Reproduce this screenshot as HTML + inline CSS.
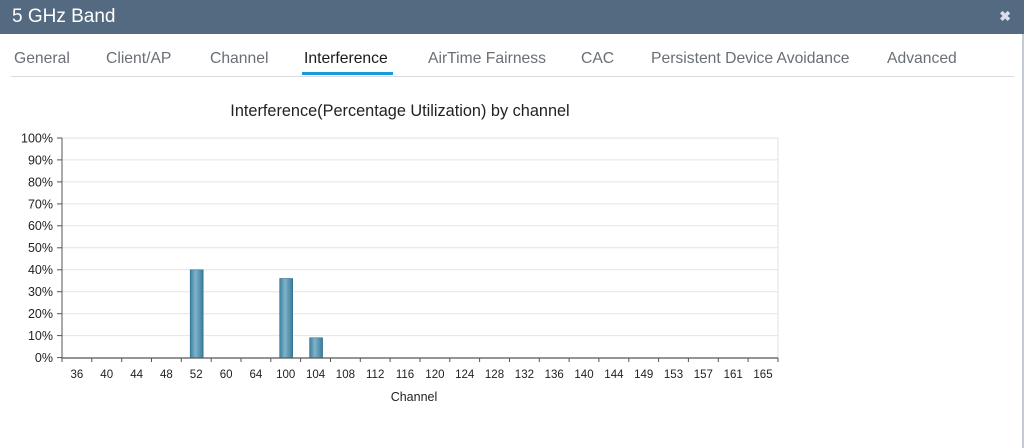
<!DOCTYPE html>
<html><head><meta charset="utf-8"><style>
body{margin:0;width:1024px;height:448px;overflow:hidden;background:#fff;font-family:"Liberation Sans",sans-serif;}
.hdr{position:absolute;left:0;top:0;width:1024px;height:34px;background:#546a80;color:#fff;font-size:19px;}
.hdr span{position:absolute;left:12px;top:6px;}
.hdr b{position:absolute;right:13px;top:8px;font-size:14px;color:#dde;}
.tab{position:absolute;top:50px;font-size:15.7px;color:#6a6f75;}
.line{position:absolute;left:11px;top:76px;width:1003px;height:1px;background:#d8dce0;}
.rb{position:absolute;right:0;top:34px;width:2px;height:414px;background:#c5cbd2;}
</style></head><body>
<div class="hdr"><span>5 GHz Band</span><b>✖</b></div>
<div class="tab" style="left:14px">General</div>
<div class="tab" style="left:106px">Client/AP</div>
<div class="tab" style="left:210px">Channel</div>
<div class="tab" style="left:304px;color:#1a1a1a">Interference</div>
<div style="position:absolute;left:302px;top:72px;width:91px;height:3px;background:#1a9bd7"></div>
<div class="tab" style="left:428px">AirTime Fairness</div>
<div class="tab" style="left:581px">CAC</div>
<div class="tab" style="left:651px">Persistent Device Avoidance</div>
<div class="tab" style="left:887px">Advanced</div>
<div class="line"></div>
<div class="rb"></div>
<svg width="1024" height="448" style="position:absolute;left:0;top:0" font-family="Liberation Sans, sans-serif">
<defs><linearGradient id="bg" x1="0" x2="1"><stop offset="0" stop-color="#3e7f9e"/><stop offset="0.4" stop-color="#7fb3cb"/><stop offset="1" stop-color="#3a7b9a"/></linearGradient></defs>
<text x="400" y="116" font-size="16.3" text-anchor="middle" fill="#222">Interference(Percentage Utilization) by channel</text>
<g stroke="#e4e4e4">
<line x1="62" x2="778" y1="335.6" y2="335.6"/><line x1="62" x2="778" y1="313.7" y2="313.7"/><line x1="62" x2="778" y1="291.7" y2="291.7"/><line x1="62" x2="778" y1="269.8" y2="269.8"/><line x1="62" x2="778" y1="247.8" y2="247.8"/><line x1="62" x2="778" y1="225.8" y2="225.8"/><line x1="62" x2="778" y1="203.9" y2="203.9"/><line x1="62" x2="778" y1="181.9" y2="181.9"/><line x1="62" x2="778" y1="159.9" y2="159.9"/>
</g>
<rect x="62" y="138" width="716" height="220" fill="none" stroke="#e2e2e2"/>
<g font-size="12.5" text-anchor="end" fill="#222">
<text x="53" y="362">0%</text><text x="53" y="340">10%</text><text x="53" y="318.1">20%</text><text x="53" y="296.1">30%</text><text x="53" y="274.2">40%</text><text x="53" y="252.2">50%</text><text x="53" y="230.2">60%</text><text x="53" y="208.3">70%</text><text x="53" y="186.3">80%</text><text x="53" y="164.3">90%</text><text x="53" y="142.4">100%</text>
</g>
<g stroke="#555">
<line x1="57" x2="62" y1="357.6" y2="357.6"/><line x1="57" x2="62" y1="335.6" y2="335.6"/><line x1="57" x2="62" y1="313.7" y2="313.7"/><line x1="57" x2="62" y1="291.7" y2="291.7"/><line x1="57" x2="62" y1="269.8" y2="269.8"/><line x1="57" x2="62" y1="247.8" y2="247.8"/><line x1="57" x2="62" y1="225.8" y2="225.8"/><line x1="57" x2="62" y1="203.9" y2="203.9"/><line x1="57" x2="62" y1="181.9" y2="181.9"/><line x1="57" x2="62" y1="159.9" y2="159.9"/><line x1="57" x2="62" y1="138" y2="138"/>
<line x1="62" x2="62" y1="138" y2="362"/>
<line x1="62" x2="778" y1="358" y2="358" stroke-width="1.3"/>
<path d="M91.8 358v4M121.7 358v4M151.5 358v4M181.3 358v4M211.2 358v4M241 358v4M270.8 358v4M300.6 358v4M330.5 358v4M360.3 358v4M390.1 358v4M420 358v4M449.8 358v4M479.6 358v4M509.5 358v4M539.3 358v4M569.1 358v4M598.9 358v4M628.8 358v4M658.6 358v4M688.4 358v4M718.3 358v4M748.1 358v4M778 358v4"/>
</g>
<g font-size="11.5" text-anchor="middle" fill="#222">
<text x="76.9" y="378">36</text><text x="106.7" y="378">40</text><text x="136.6" y="378">44</text><text x="166.4" y="378">48</text><text x="196.2" y="378">52</text><text x="226.1" y="378">60</text><text x="255.9" y="378">64</text><text x="285.7" y="378">100</text><text x="315.6" y="378">104</text><text x="345.4" y="378">108</text><text x="375.2" y="378">112</text><text x="405" y="378">116</text><text x="434.9" y="378">120</text><text x="464.7" y="378">124</text><text x="494.5" y="378">128</text><text x="524.4" y="378">132</text><text x="554.2" y="378">136</text><text x="584" y="378">140</text><text x="613.9" y="378">144</text><text x="643.7" y="378">149</text><text x="673.5" y="378">153</text><text x="703.3" y="378">157</text><text x="733.2" y="378">161</text><text x="763" y="378">165</text>
</g>
<g fill="url(#bg)" stroke="#2f6f8e" stroke-width="0.6">
<rect x="190.2" y="269.8" width="13" height="87.8"/>
<rect x="279.7" y="278.5" width="13" height="79.1"/>
<rect x="309.6" y="337.8" width="13" height="19.8"/>
</g>
<text x="414" y="401" font-size="12.5" text-anchor="middle" fill="#222">Channel</text>
</svg>
</body></html>
